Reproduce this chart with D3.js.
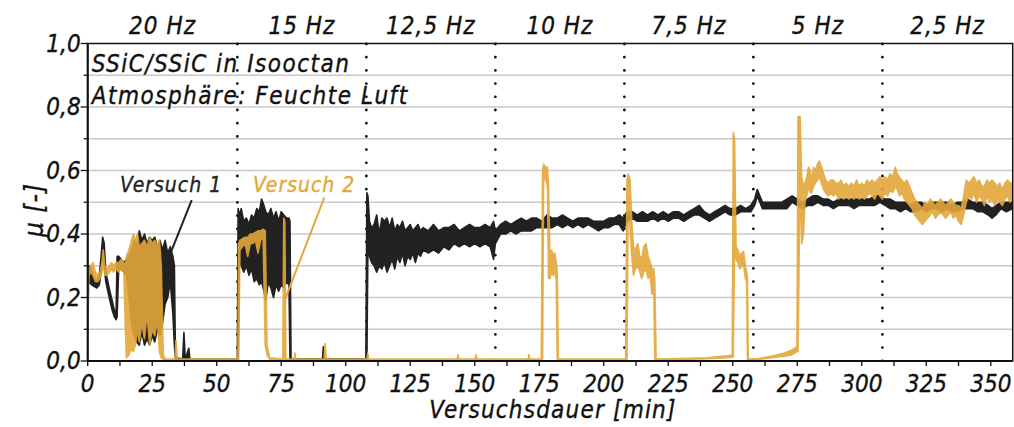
<!DOCTYPE html>
<html><head><meta charset="utf-8">
<script src="https://cdn.jsdelivr.net/npm/d3@7"></script>
<style>
html,body{margin:0;padding:0;background:#fff;}
svg text{font-family:"DejaVu Sans Condensed","DejaVu Sans",sans-serif;font-style:oblique;}
</style></head>
<body><svg id="chart" width="1014" height="427"></svg>
<script>
// ---------------- data ----------------
const frequencyLabels = ["20 Hz","15 Hz","12,5 Hz","10 Hz","7,5 Hz","5 Hz","2,5 Hz"];
const frequencyBounds = [0, 58, 108, 158, 208, 258, 308, 358.5];
const xTicks = [0,25,50,75,100,125,150,175,200,225,250,275,300,325,350];
const yTicks = [0,0.2,0.4,0.6,0.8,1.0];
const seriesNames = ["Versuch 1","Versuch 2"];
const infoLines = ["SSiC/SSiC in Isooctan","Atmosphäre: Feuchte Luft"];
// annotation leader lines [t, mu] -> [t, mu]
const leader1 = [[40.3,0.507],[30.6,0.309]];
const leader2 = [[91.7,0.515],[76.1,0.186]];
const label1At = [12.5,0.532];
const label2At = [64.1,0.532];

// Versuch 1: [time min, low mu, high mu]
const versuch1 = [
[0,0.24,0.27],[0.5,0.25,0.30],[1.5,0.24,0.29],[2.5,0.235,0.26],[3.5,0.23,0.25],[4.5,0.24,0.27],
[5.2,0.28,0.33],[5.8,0.35,0.39],[6.4,0.30,0.37],[7.0,0.25,0.28],[7.8,0.22,0.25],[8.6,0.19,0.22],
[9.5,0.16,0.19],[10.3,0.14,0.16],[11.0,0.13,0.15],[11.4,0.14,0.33],[12.0,0.29,0.33],[13.0,0.29,0.32],
[14.0,0.28,0.31],[15.0,0.27,0.32],[16.0,0.20,0.33],[17.0,0.12,0.35],[18.0,0.08,0.38],[19.0,0.06,0.36],
[20.0,0.05,0.41],[21.0,0.09,0.38],[22.0,0.05,0.40],[23.0,0.07,0.37],[24.0,0.05,0.39],[25.0,0.08,0.38],
[26.0,0.06,0.39],[27.0,0.10,0.36],[28.0,0.08,0.38],[29.0,0.12,0.35],[30.0,0.18,0.38],[31.0,0.20,0.34],
[32.0,0.25,0.36],[33.0,0.15,0.33],[33.6,0.05,0.30],[34.0,0.005,0.01],[36.8,0.003,0.006],[37.3,0.003,0.09],
[37.8,0.003,0.006],[39.2,0.003,0.04],[39.6,0.003,0.005],[58.0,0.003,0.005],[58.3,0.003,0.48],
[58.8,0.33,0.46],[59.5,0.30,0.48],[60.5,0.28,0.44],[61.5,0.30,0.45],[62.5,0.27,0.43],[63.5,0.29,0.46],
[64.5,0.25,0.45],[65.5,0.26,0.48],[66.5,0.24,0.47],[67.4,0.25,0.51],[68.3,0.22,0.49],[69.0,0.19,0.47],
[70.0,0.25,0.46],[71.0,0.23,0.48],[72.0,0.20,0.45],[73.0,0.24,0.47],[74.0,0.22,0.44],[75.0,0.24,0.47],
[76.0,0.23,0.46],[77.0,0.25,0.45],[78.0,0.24,0.45],[78.4,0.003,0.44],[78.8,0.003,0.006],
[91.0,0.003,0.006],[91.3,0.003,0.045],[91.7,0.003,0.006],[107.8,0.003,0.006],[108.2,0.003,0.53],
[108.6,0.36,0.52],[109.2,0.33,0.44],[110,0.31,0.42],[111,0.30,0.43],[112,0.28,0.46],[113,0.30,0.40],
[114,0.29,0.45],[115,0.31,0.44],[116,0.28,0.45],[117,0.30,0.42],[118,0.32,0.45],[119,0.29,0.41],
[120,0.33,0.43],[121,0.31,0.42],[122,0.34,0.44],[123,0.30,0.41],[124,0.33,0.42],[125,0.32,0.43],
[126,0.34,0.41],[127,0.31,0.42],[128,0.34,0.43],[129,0.33,0.41],[130,0.35,0.42],[132,0.34,0.41],
[134,0.35,0.43],[136,0.34,0.41],[138,0.36,0.42],[140,0.35,0.42],[142,0.37,0.43],[144,0.36,0.41],
[146,0.37,0.42],[148,0.36,0.43],[150,0.37,0.42],[152,0.36,0.42],[154,0.37,0.43],[156,0.36,0.42],
[157.3,0.32,0.44],[158,0.37,0.41],[160,0.40,0.43],[162,0.40,0.44],[164,0.41,0.43],[166,0.40,0.44],
[168,0.41,0.45],[170,0.41,0.44],[172,0.41,0.45],[174,0.42,0.45],[176,0.42,0.44],[178,0.42,0.46],
[180,0.42,0.45],[182,0.43,0.45],[184,0.42,0.46],[186,0.43,0.45],[188,0.42,0.44],[190,0.43,0.45],
[192,0.42,0.45],[194,0.43,0.45],[196,0.42,0.44],[198,0.41,0.44],[200,0.42,0.44],[202,0.42,0.45],
[204,0.43,0.45],[206,0.43,0.46],[207.5,0.41,0.45],[209,0.44,0.47],[211,0.45,0.47],[213,0.44,0.46],
[215,0.44,0.47],[217,0.44,0.46],[219,0.45,0.47],[221,0.44,0.46],[223,0.45,0.47],[225,0.44,0.46],
[227,0.45,0.47],[229,0.45,0.47],[231,0.44,0.46],[233,0.45,0.47],[235,0.46,0.48],[237,0.46,0.49],
[239,0.45,0.47],[241,0.44,0.46],[243,0.45,0.47],[245,0.46,0.48],[247,0.47,0.49],[249,0.46,0.48],
[251,0.46,0.48],[253,0.47,0.49],[255,0.47,0.48],[257,0.47,0.49],[258.5,0.49,0.51],[259.5,0.52,0.54],
[260.5,0.50,0.52],[261.5,0.48,0.50],[263,0.48,0.50],[265,0.48,0.50],[267,0.48,0.50],[269,0.48,0.50],
[271,0.48,0.51],[273,0.50,0.52],[275,0.49,0.51],[277,0.48,0.50],[279,0.49,0.51],[281,0.49,0.52],
[283,0.50,0.52],[285,0.49,0.51],[287,0.49,0.51],[289,0.48,0.50],[291,0.49,0.51],[293,0.49,0.51],
[295,0.49,0.51],[297,0.48,0.51],[299,0.49,0.51],[301,0.49,0.51],[303,0.49,0.51],[305,0.49,0.52],
[307,0.50,0.52],[309,0.49,0.51],[311,0.48,0.51],[313,0.48,0.50],[315,0.47,0.50],[317,0.48,0.50],
[319,0.47,0.49],[321,0.47,0.50],[323,0.48,0.50],[325,0.47,0.49],[327,0.48,0.50],[329,0.48,0.50],
[331,0.47,0.50],[333,0.48,0.50],[335,0.47,0.49],[337,0.47,0.50],[339,0.48,0.50],[341,0.48,0.51],
[343,0.48,0.50],[345,0.47,0.50],[347,0.47,0.50],[349,0.46,0.49],[350.5,0.45,0.48],[352,0.46,0.49],
[354,0.48,0.50],[356,0.47,0.50],[358.5,0.48,0.50]
];

// Versuch 2: [time min, low mu, high mu]
const versuch2 = [
[0,0.09,0.10],[0.5,0.27,0.29],[1.2,0.28,0.30],[2.0,0.27,0.31],[3.0,0.25,0.28],[3.8,0.25,0.27],
[4.8,0.26,0.28],[5.5,0.28,0.31],[6.0,0.31,0.35],[6.6,0.27,0.30],[7.5,0.27,0.29],[8.5,0.28,0.30],
[9.2,0.29,0.31],[10.0,0.28,0.30],[11.0,0.29,0.31],[12.0,0.28,0.31],[13.0,0.29,0.32],[14.0,0.28,0.31],
[14.6,0.10,0.30],[15.0,0.01,0.33],[16.0,0.02,0.35],[17.0,0.04,0.38],[17.7,0.03,0.40],[18.5,0.05,0.38],
[19.3,0.10,0.40],[20.0,0.06,0.36],[21.0,0.12,0.37],[22.0,0.07,0.38],[23.0,0.15,0.36],[24.0,0.05,0.39],
[25.0,0.10,0.37],[26.0,0.08,0.38],[27.0,0.13,0.36],[27.8,0.03,0.38],[28.5,0.01,0.30],[29.3,0.005,0.02],
[30.0,0.004,0.006],[33.8,0.004,0.006],[34.2,0.004,0.065],[34.7,0.004,0.006],[58.2,0.004,0.006],
[58.5,0.004,0.37],[59.0,0.35,0.38],[60.0,0.36,0.385],[61.0,0.37,0.39],[62.0,0.33,0.39],[63.0,0.37,0.40],
[64.0,0.37,0.40],[65.0,0.38,0.405],[66.0,0.34,0.41],[67.0,0.38,0.41],[68.0,0.39,0.415],[68.8,0.05,0.41],
[69.5,0.02,0.05],[70.5,0.004,0.01],[75.6,0.004,0.006],[76.0,0.004,0.45],[76.4,0.004,0.44],[76.8,0.004,0.006],
[80.0,0.004,0.006],[80.3,0.004,0.025],[80.6,0.004,0.006],[91.6,0.004,0.006],[92.0,0.004,0.055],
[92.5,0.004,0.006],[108.2,0.004,0.006],[108.5,0.004,0.025],[108.9,0.004,0.006],[143.2,0.004,0.006],
[143.5,0.004,0.02],[143.8,0.004,0.006],[150.2,0.004,0.006],[150.5,0.004,0.02],[150.8,0.004,0.006],
[170.7,0.004,0.006],[171.0,0.004,0.02],[171.3,0.004,0.006],[175.8,0.004,0.006],[176.3,0.004,0.60],
[176.7,0.58,0.62],[177.5,0.57,0.61],[178.2,0.55,0.61],[178.6,0.26,0.55],[179.2,0.26,0.30],[179.8,0.28,0.35],
[180.4,0.27,0.33],[181.0,0.28,0.34],[181.6,0.26,0.31],[182.0,0.004,0.28],[182.4,0.004,0.006],
[208.5,0.004,0.006],[209.0,0.004,0.57],[209.5,0.56,0.59],[210.2,0.42,0.57],[210.8,0.34,0.45],
[211.5,0.27,0.36],[212.3,0.29,0.35],[213.2,0.30,0.37],[214.0,0.28,0.33],[214.7,0.26,0.32],[215.5,0.28,0.36],
[216.4,0.29,0.37],[217.2,0.26,0.33],[218.0,0.27,0.31],[218.7,0.21,0.29],[219.4,0.22,0.29],[219.8,0.004,0.25],
[220.3,0.004,0.006],[230,0.005,0.008],[240,0.007,0.01],[248,0.01,0.016],[249.8,0.012,0.02],
[250.2,0.012,0.72],[250.7,0.36,0.70],[251.3,0.32,0.36],[252.0,0.31,0.35],[252.8,0.29,0.33],[253.5,0.30,0.34],
[254.2,0.30,0.345],[254.9,0.26,0.30],[255.4,0.25,0.28],[255.7,0.003,0.26],[256.0,0.003,0.006],
[260,0.005,0.008],[265,0.01,0.015],[270,0.015,0.025],[273,0.02,0.035],[274.9,0.03,0.045],
[275.3,0.03,0.77],[276.1,0.60,0.77],[276.7,0.37,0.58],[277.4,0.40,0.55],[278.0,0.50,0.56],[278.7,0.52,0.58],
[279.3,0.55,0.61],[280.0,0.53,0.60],[280.6,0.53,0.57],[281.3,0.55,0.61],[282.0,0.56,0.60],[282.8,0.57,0.62],
[283.6,0.58,0.63],[284.4,0.56,0.61],[285.2,0.54,0.59],[286.0,0.53,0.57],[287.0,0.52,0.56],[288.0,0.53,0.57],
[289.0,0.52,0.57],[290.0,0.53,0.56],[291.0,0.51,0.56],[292.0,0.52,0.57],[293.0,0.51,0.55],[294.0,0.52,0.56],
[295.0,0.51,0.55],[296.0,0.52,0.56],[297.0,0.51,0.55],[298.0,0.52,0.57],[299.0,0.51,0.55],[300.0,0.52,0.56],
[301.0,0.51,0.55],[302.0,0.52,0.57],[303.0,0.53,0.56],[304.0,0.52,0.57],[305.0,0.51,0.56],[306.0,0.53,0.57],
[307.0,0.52,0.58],[308.0,0.51,0.57],[309.0,0.53,0.58],[310.0,0.52,0.57],[311.0,0.54,0.59],[312.0,0.53,0.58],
[313.0,0.55,0.61],[313.8,0.54,0.59],[314.6,0.52,0.58],[315.5,0.53,0.57],[316.5,0.51,0.56],[317.5,0.50,0.57],
[318.5,0.49,0.55],[319.5,0.48,0.53],[320.5,0.46,0.51],[321.5,0.45,0.50],[322.5,0.44,0.49],[323.5,0.43,0.48],
[324.5,0.44,0.50],[325.5,0.45,0.49],[326.5,0.46,0.51],[327.5,0.47,0.50],[328.5,0.45,0.49],[329.5,0.46,0.50],
[330.5,0.47,0.51],[331.5,0.46,0.50],[332.5,0.45,0.49],[333.5,0.46,0.50],[334.5,0.47,0.51],[335.5,0.45,0.50],
[336.5,0.46,0.49],[337.5,0.44,0.49],[338.5,0.43,0.48],[339.5,0.46,0.52],[340.5,0.50,0.57],[341.5,0.52,0.56],
[342.5,0.51,0.57],[343.5,0.53,0.58],[344.5,0.50,0.56],[345.5,0.52,0.57],[346.5,0.51,0.55],[347.5,0.49,0.55],
[348.5,0.52,0.57],[349.5,0.50,0.56],[350.5,0.51,0.57],[351.5,0.49,0.56],[352.5,0.51,0.55],[353.5,0.50,0.56],
[354.5,0.49,0.54],[355.5,0.51,0.56],[356.5,0.52,0.57],[357.5,0.50,0.56],[358.5,0.52,0.56]
];

// ---------------- drawing ----------------
const svg = d3.select("#chart");
const W = 1014, H = 427;
const margin = {left: 87.7, right: 1.3, top: 43.5, bottom: 66};
const x = d3.scaleLinear().domain([0, 358.5]).range([margin.left, W - margin.right]);
const y = d3.scaleLinear().domain([0, 1]).range([H - margin.bottom, margin.top]);
const colors = ["#222222", "#E3A73A"];
const fmt = d => d3.format(".1f")(d).replace(".", ",");

svg.append("defs").append("clipPath").attr("id","clip")
  .append("rect").attr("x", x(0)).attr("y", y(1)).attr("width", x(358.5)-x(0)).attr("height", y(0)-y(1));

// gridlines
svg.append("g").selectAll("line").data(d3.range(1,10).map(d => d/10)).join("line")
  .attr("x1", x(0)).attr("x2", x(358.5)).attr("y1", d => y(d)).attr("y2", d => y(d))
  .attr("stroke", "#c9c9c9").attr("stroke-width", 1.6);

// frequency separators (dotted)
svg.append("g").selectAll("line").data(frequencyBounds.slice(1, -1)).join("line")
  .attr("x1", d => x(d)).attr("x2", d => x(d)).attr("y1", y(1)+0.5).attr("y2", y(0))
  .attr("stroke", "#111").attr("stroke-width", 2.8).attr("stroke-linecap", "round")
  .attr("stroke-dasharray", "0 13.2");

// series
const area = d3.area().x(d => x(d[0])).y0(d => y(d[1])).y1(d => y(d[2]));
const gData = svg.append("g").attr("clip-path", "url(#clip)");
[versuch1, versuch2].forEach((s, i) => {
  gData.append("path").datum(s).attr("d", area)
    .attr("fill", colors[i]).attr("stroke", colors[i]).attr("stroke-width", 1.6)
    .attr("stroke-linejoin", "round").attr("opacity", i === 1 ? 0.9 : 1);
});

// frame
svg.append("rect").attr("x", x(0)).attr("y", y(1)).attr("width", x(358.5)-x(0)).attr("height", y(0)-y(1))
  .attr("fill", "none").attr("stroke", "#111").attr("stroke-width", 1.5);

// text style helper (slightly heavier strokes like the reference font)
const ink = (sel, c) => sel.attr("fill", c).attr("stroke", c).attr("stroke-width", 0.35);

// x axis
const xAxis = svg.append("g").attr("transform", `translate(0,${y(0)})`);
xAxis.append("line").attr("x1", x(0)).attr("x2", x(358.5)).attr("stroke", "#111").attr("stroke-width", 2);
xAxis.selectAll(".xt").data(d3.range(0, 358.5, 12.5)).join("line")
  .attr("x1", d => x(d)).attr("x2", d => x(d)).attr("y1", 0).attr("y2", 5)
  .attr("stroke", "#111").attr("stroke-width", 1.3);
ink(xAxis.selectAll("text").data(xTicks).join("text")
  .attr("x", d => x(d)).attr("y", 31).attr("text-anchor", "middle")
  .attr("font-size", 24).text(d => d), "#111");

// y axis
const yAxis = svg.append("g").attr("transform", `translate(${x(0)},0)`);
yAxis.append("line").attr("y1", y(0)).attr("y2", y(1)).attr("stroke", "#111").attr("stroke-width", 2);
yAxis.selectAll(".yt").data(d3.range(0, 11).map(d => d/10)).join("line")
  .attr("y1", d => y(d)).attr("y2", d => y(d)).attr("x1", (d, i) => i % 2 === 0 ? -7 : -4).attr("x2", 0)
  .attr("stroke", "#111").attr("stroke-width", 1.3);
ink(yAxis.selectAll("text").data(yTicks).join("text")
  .attr("x", -7).attr("y", d => y(d) + 8).attr("text-anchor", "end")
  .attr("font-size", 24).text(fmt), "#111");

// axis titles
ink(svg.append("text").attr("x", 553).attr("y", 418).attr("text-anchor", "middle")
  .attr("font-size", 24).attr("letter-spacing", 1.2).text("Versuchsdauer [min]"), "#111");
ink(svg.append("text").attr("transform", `translate(43,210) rotate(-90)`)
  .attr("text-anchor", "middle").attr("font-size", 26).attr("letter-spacing", 1).text("μ [-]"), "#111");

// frequency labels
ink(svg.append("g").selectAll("text").data(frequencyLabels).join("text")
  .attr("x", (d, i) => x((frequencyBounds[i] + frequencyBounds[i+1]) / 2)).attr("y", 34)
  .attr("text-anchor", "middle").attr("font-size", 24).attr("letter-spacing", 1).text(d => d), "#111");

// info text
ink(svg.append("g").selectAll("text").data(infoLines).join("text")
  .attr("x", x(0) + 4).attr("y", (d, i) => y(1) + 28 + i * 32)
  .attr("font-size", 24).attr("letter-spacing", 1.5).text(d => d), "#111");

// annotations
const line = d3.line().x(d => x(d[0])).y(d => y(d[1]));
svg.append("path").datum(leader1).attr("d", line).attr("stroke", colors[0]).attr("stroke-width", 2).attr("fill", "none");
svg.append("path").datum(leader2).attr("d", line).attr("stroke", colors[1]).attr("stroke-width", 2).attr("fill", "none");
ink(svg.append("text").attr("x", x(label1At[0])).attr("y", y(label1At[1])).attr("font-size", 21)
  .attr("letter-spacing", 1).text(seriesNames[0]), colors[0]);
ink(svg.append("text").attr("x", x(label2At[0])).attr("y", y(label2At[1])).attr("font-size", 21)
  .attr("letter-spacing", 1).text(seriesNames[1]), colors[1]);
</script></body></html>
